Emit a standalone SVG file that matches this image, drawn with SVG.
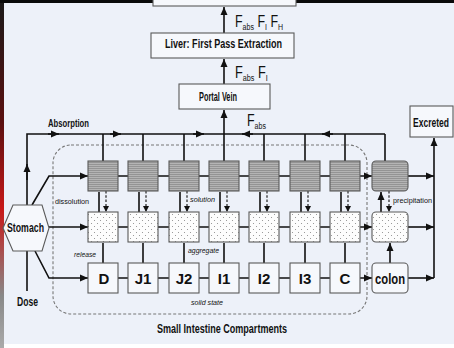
<svg xmlns="http://www.w3.org/2000/svg" width="454" height="348" viewBox="0 0 454 348">
<defs>
<style>
.bx{stroke:#5a5a5a;stroke-width:1.1}
.sol{fill:url(#stripes)}
.par{fill:url(#dots)}
.ln{fill:none;stroke:#111;stroke-width:1.6}
.ar{fill:none;stroke:#111;stroke-width:1.6;marker-end:url(#ah)}
.da{fill:none;stroke:#222;stroke-width:1.2;stroke-dasharray:2.5 1.8;marker-end:url(#ahs)}
.t{font-family:"Liberation Sans",Arial,sans-serif;fill:#111}
.b{font-weight:bold}
.lab{font-family:"Liberation Sans",Arial,sans-serif;font-weight:bold;font-size:15px;fill:#111;text-anchor:middle}
.sm{font-family:"Liberation Sans",Arial,sans-serif;font-size:8px;fill:#111}
.it{font-style:italic}
.sub{font-size:9px}
</style>
<pattern id="stripes" width="4" height="2" patternUnits="userSpaceOnUse">
<rect width="4" height="2" fill="#b4b4b4"/>
<rect width="4" height="1" fill="#949494"/>
</pattern>
<pattern id="dots" width="6" height="6" patternUnits="userSpaceOnUse">
<rect width="6" height="6" fill="#fdfdfd"/>
<circle cx="1.5" cy="1.5" r="0.55" fill="#8a8a8a"/>
<circle cx="4.5" cy="4.5" r="0.55" fill="#8a8a8a"/>
</pattern>
<marker id="ah" markerUnits="userSpaceOnUse" markerWidth="9" markerHeight="8" refX="8" refY="4" orient="auto">
<path d="M0,0.5 L8,4 L0,7.5 z" fill="#111"/>
</marker>
<marker id="ahs" markerUnits="userSpaceOnUse" markerWidth="7" markerHeight="7" refX="6" refY="3" orient="auto">
<path d="M0,0 L6,3 L0,6 z" fill="#111"/>
</marker>
<linearGradient id="edge" x1="0" y1="0" x2="0" y2="1">
<stop offset="0" stop-color="#1a1a1a"/>
<stop offset="0.35" stop-color="#5a1010"/>
<stop offset="0.6" stop-color="#c81818"/>
<stop offset="0.85" stop-color="#888"/>
<stop offset="1" stop-color="#aaa"/>
</linearGradient>
</defs>

<rect x="0" y="0" width="454" height="348" fill="#edf1f9"/>
<rect x="0" y="344" width="454" height="4" fill="#ffffff"/>
<rect x="0" y="0" width="4" height="348" fill="url(#edge)"/>
<rect x="0" y="0" width="454" height="3" fill="#0a0a0a"/>

<rect id="si-region" x="53" y="145" width="314" height="169" rx="18" fill="none" stroke="#777" stroke-width="1.1" stroke-dasharray="3 2"/>

<g id="connectors">
<path class="ar" d="M224,33 L224,7"/>
<path class="ar" d="M224,84 L224,59"/>
<path class="ar" d="M224,134 L224,110"/>
<path class="ln" d="M27,205 L27,134 L385,134"/>
<path class="ar" d="M27,180 L27,164"/>
<path class="ar" d="M48,134 L59,134"/>
<path class="ar" d="M110,134 L121,134"/>
<path class="ar" d="M193,134 L204,134"/>
<path class="ar" d="M253,134 L242,134"/>
<path class="ar" d="M333,134 L322,134"/>
<path class="ln" d="M103,134 V161 M143,134 V161 M184,134 V161 M224,134 V161 M264,134 V161 M305,134 V161 M345,134 V161 M385,134 V161"/>
<path class="ar" d="M32,205 L49,176 L88,176"/>
<path class="ar" d="M49,227 L88,227"/>
<path class="ar" d="M35,251 L49,278 L88,278"/>
<path class="ar" d="M27,291 L27,237"/>
<path class="ar" d="M118,176 H128 M158,176 H169 M199,176 H209 M239,176 H249 M279,176 H290 M320,176 H330 M360,176 H372"/>
<path class="ar" d="M118,227 H128 M158,227 H169 M199,227 H209 M239,227 H249 M279,227 H290 M320,227 H330 M360,227 H372"/>
<path class="ar" d="M118,278 H128 M158,278 H169 M199,278 H209 M239,278 H249 M279,278 H290 M320,278 H330 M360,278 H372"/>
<path class="ar" d="M408,176 H434"/>
<path class="ar" d="M408,227 H434"/>
<path class="ar" d="M408,278 H434"/>
<path class="ar" d="M434,278 V138"/>
<path class="ar" d="M103,263 V243 M143,263 V243 M184,263 V243 M224,263 V243 M264,263 V243 M305,263 V243 M345,263 V243 M390,263 V243"/>
<path class="ar" d="M99,212 V192 M139,212 V192 M180,212 V192 M220,212 V192 M260,212 V192 M301,212 V192 M341,212 V192 M381,212 V192"/>
<path class="da" d="M106,191 V212"/>
<path class="da" d="M146,191 V212"/>
<path class="da" d="M187,191 V212"/>
<path class="da" d="M227,191 V212"/>
<path class="da" d="M267,191 V212"/>
<path class="da" d="M308,191 V212"/>
<path class="da" d="M348,191 V212"/>
<path class="da" d="M389,191 V212"/>
</g>

<g id="top-box"><rect class="bx" x="153" y="-10" width="143" height="16" fill="#f6f8fc"/></g>
<g id="liver"><rect class="bx" x="151" y="33" width="143" height="25" fill="#f6f8fc"/>
<text class="t b" x="165" y="48" font-size="12" textLength="117" lengthAdjust="spacingAndGlyphs">Liver: First Pass Extraction</text></g>
<g id="portal-vein"><rect class="bx" x="179" y="84" width="91" height="25" fill="#f6f8fc"/>
<text class="t b" x="199" y="101" font-size="12" textLength="38" lengthAdjust="spacingAndGlyphs">Portal Vein</text></g>
<g id="excreted"><rect class="bx" x="410" y="106" width="43" height="31" fill="#f6f8fc"/>
<text class="t b" transform="translate(413,127) scale(0.71,1)" x="0" y="0" font-size="12">Excreted</text></g>
<g id="stomach"><polygon class="bx" points="3,228 13,205 42,205 49,228 42,251 13,251" fill="#f6f8fc"/>
<text class="t b" x="7" y="232" font-size="12" textLength="37" lengthAdjust="spacingAndGlyphs">Stomach</text></g>

<g id="flow-labels" class="t">
<text transform="translate(235,27) scale(0.78,1)" x="0" y="0" font-size="16">F<tspan class="sub" dy="3">abs</tspan><tspan dy="-3"> F</tspan><tspan class="sub" dy="3">I</tspan><tspan dy="-3"> F</tspan><tspan class="sub" dy="3">H</tspan></text>
<text transform="translate(235,78) scale(0.8,1)" x="0" y="0" font-size="16">F<tspan class="sub" dy="3">abs</tspan><tspan dy="-3"> F</tspan><tspan class="sub" dy="3">I</tspan></text>
<text transform="translate(247,126) scale(0.78,1)" x="0" y="0" font-size="16">F<tspan class="sub" dy="3">abs</tspan></text>
<text class="b" x="48" y="127" font-size="10" textLength="41" lengthAdjust="spacingAndGlyphs">Absorption</text>
<text class="b" x="17" y="306" font-size="12" textLength="21" lengthAdjust="spacingAndGlyphs">Dose</text>
<text class="b" x="157" y="333" font-size="12" textLength="130" lengthAdjust="spacingAndGlyphs">Small Intestine Compartments</text>
</g>
<g id="small-labels">
<text class="sm" x="55" y="204" textLength="34" lengthAdjust="spacingAndGlyphs">dissolution</text>
<text class="sm it" x="190" y="202" textLength="25" lengthAdjust="spacingAndGlyphs">solution</text>
<text class="sm it" x="74" y="257" textLength="22" lengthAdjust="spacingAndGlyphs">release</text>
<text class="sm it" x="188" y="253" textLength="31" lengthAdjust="spacingAndGlyphs">aggregate</text>
<text class="sm it" x="191" y="305" textLength="32" lengthAdjust="spacingAndGlyphs">solid state</text>
<text class="sm" x="393" y="203" textLength="39" lengthAdjust="spacingAndGlyphs">precipitation</text>
</g>

<g id="sol-D"><rect class="bx sol" x="88" y="161" width="30" height="30"/></g>
<g id="sol-J1"><rect class="bx sol" x="128" y="161" width="30" height="30"/></g>
<g id="sol-J2"><rect class="bx sol" x="169" y="161" width="30" height="30"/></g>
<g id="sol-I1"><rect class="bx sol" x="209" y="161" width="30" height="30"/></g>
<g id="sol-I2"><rect class="bx sol" x="249" y="161" width="30" height="30"/></g>
<g id="sol-I3"><rect class="bx sol" x="290" y="161" width="30" height="30"/></g>
<g id="sol-C"><rect class="bx sol" x="330" y="161" width="30" height="30"/></g>
<g id="sol-colon"><rect class="bx sol" x="372" y="161" width="36" height="30" rx="4"/></g>
<g id="par-D"><rect class="bx par" x="88" y="212" width="30" height="30"/></g>
<g id="par-J1"><rect class="bx par" x="128" y="212" width="30" height="30"/></g>
<g id="par-J2"><rect class="bx par" x="169" y="212" width="30" height="30"/></g>
<g id="par-I1"><rect class="bx par" x="209" y="212" width="30" height="30"/></g>
<g id="par-I2"><rect class="bx par" x="249" y="212" width="30" height="30"/></g>
<g id="par-I3"><rect class="bx par" x="290" y="212" width="30" height="30"/></g>
<g id="par-C"><rect class="bx par" x="330" y="212" width="30" height="30"/></g>
<g id="par-colon"><rect class="bx par" x="372" y="212" width="36" height="30" rx="4"/></g>
<g id="D"><rect class="bx" x="88" y="263" width="30" height="30" fill="#f6f8fc"/><text class="lab" x="104" y="284">D</text></g>
<g id="J1"><rect class="bx" x="128" y="263" width="30" height="30" fill="#f6f8fc"/><text class="lab" x="143" y="284">J1</text></g>
<g id="J2"><rect class="bx" x="169" y="263" width="30" height="30" fill="#f6f8fc"/><text class="lab" x="184" y="284">J2</text></g>
<g id="I1"><rect class="bx" x="209" y="263" width="30" height="30" fill="#f6f8fc"/><text class="lab" x="224" y="284">I1</text></g>
<g id="I2"><rect class="bx" x="249" y="263" width="30" height="30" fill="#f6f8fc"/><text class="lab" x="264" y="284">I2</text></g>
<g id="I3"><rect class="bx" x="290" y="263" width="30" height="30" fill="#f6f8fc"/><text class="lab" x="305" y="284">I3</text></g>
<g id="C"><rect class="bx" x="330" y="263" width="30" height="30" fill="#f6f8fc"/><text class="lab" x="345" y="284">C</text></g>
<g id="colon"><rect class="bx" x="372" y="263" width="36" height="30" rx="4" fill="#f6f8fc"/><text class="lab" x="390" y="284" textLength="30" lengthAdjust="spacingAndGlyphs">colon</text></g>
</svg>
